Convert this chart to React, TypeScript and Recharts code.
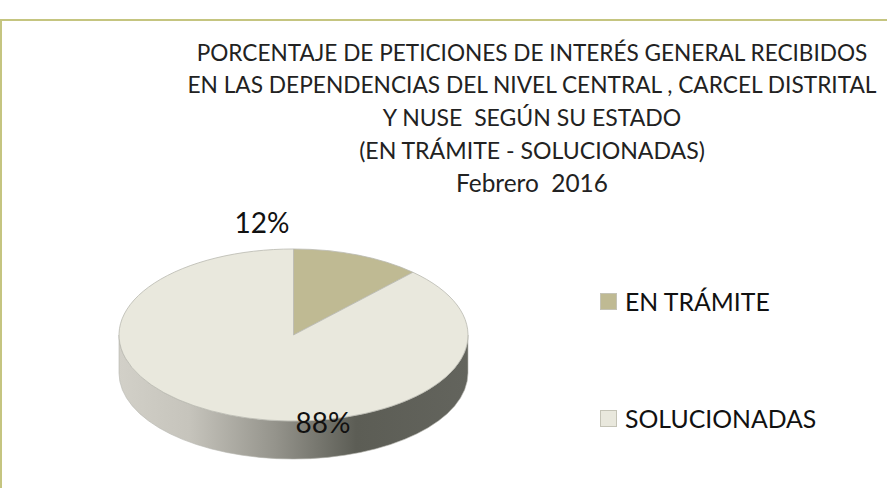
import { PieChart, Pie, Legend } from "recharts";

const categories = ["EN TRÁMITE", "SOLUCIONADAS"];
const values = [12, 88];
const colors = ["#bfba93", "#e9e8dd"];
const titleLines = [
  "PORCENTAJE DE PETICIONES DE INTERÉS GENERAL RECIBIDOS",
  "EN LAS DEPENDENCIAS DEL NIVEL CENTRAL , CARCEL DISTRITAL",
  "Y NUSE  SEGÚN SU ESTADO",
  "(EN TRÁMITE - SOLUCIONADAS)",
  "Febrero  2016",
];

const chartData = categories.map((name, i) => ({ name, value: values[i], fill: colors[i] }));

const FONT = "Lato, 'Open Sans', sans-serif";
const TITLE_SIZES = [22.6, 22.7, 23, 23.1, 24.4];
const SQUASH = 0.493; // ry / rx del disco
const DEPTH = 38;
const LABEL_OFFSET = [
  { dx: -31.5, dy: -102 },
  { dx: 29.5, dy: 98 },
];

const rad = (a: number) => (a * Math.PI) / 180;

// sector elíptico con la pared lateral del disco
function Sector3D(props: any) {
  const { cx, cy, outerRadius, startAngle, endAngle, fill } = props;
  const rx = outerRadius;
  const ry = outerRadius * SQUASH;
  const px = (a: number) => cx + rx * Math.cos(rad(a));
  const py = (a: number) => cy - ry * Math.sin(rad(a));
  const large = Math.abs(startAngle - endAngle) > 180 ? 1 : 0;

  const lo = Math.max(Math.min(startAngle, endAngle), -180);
  const hi = Math.min(Math.max(startAngle, endAngle), 0);

  return (
    <g>
      {hi > lo && (
        <path
          d={`M${px(lo)},${py(lo)} A${rx},${ry} 0 0 0 ${px(hi)},${py(hi)} L${px(hi)},${py(hi) + DEPTH} A${rx},${ry} 0 0 1 ${px(lo)},${py(lo) + DEPTH} Z`}
          fill="url(#wall)"
          stroke="#b5b5ae"
          strokeWidth={0.6}
        />
      )}
      <path
        d={`M${cx},${cy} L${px(startAngle)},${py(startAngle)} A${rx},${ry} 0 ${large} 1 ${px(endAngle)},${py(endAngle)} Z`}
        fill={fill}
        stroke="#b9b9b0"
        strokeWidth={0.8}
      />
    </g>
  );
}

const renderLabel = (props: any) => {
  const { cx, cy, index, value } = props;
  return (
    <text
      x={cx + LABEL_OFFSET[index].dx}
      y={cy + LABEL_OFFSET[index].dy}
      textAnchor="middle"
      fontFamily={FONT}
      fontSize={28}
      fill="#111"
    >
      {`${value}%`}
    </text>
  );
};

const renderLegend = (props: any) => (
  <div>
    {(props.payload || []).map((entry: any) => (
      <div key={entry.value} style={{ display: "flex", alignItems: "center", height: 34, marginBottom: 83 }}>
        <span
          style={{
            width: 17,
            height: 17,
            boxSizing: "border-box",
            background: entry.color,
            border: "1px solid #c4c3b6",
            marginRight: 8,
          }}
        />
        <span style={{ fontFamily: FONT, fontSize: 24.8, color: "#111", whiteSpace: "nowrap" }}>{entry.value}</span>
      </div>
    ))}
  </div>
);

export default function App() {
  return (
    <div style={{ position: "absolute", left: 0, top: 0, width: 887, height: 488, background: "#fff", overflow: "hidden" }}>
      <div
        style={{
          position: "absolute",
          left: 0,
          top: 19,
          width: 900,
          height: 500,
          boxSizing: "border-box",
          border: "2px solid #c5c580",
        }}
      />
      <PieChart width={887} height={488} margin={{ top: 0, right: 0, bottom: 0, left: 0 }} style={{ position: "absolute", left: 0, top: 0 }}>
        <defs>
          <linearGradient id="wall" x1="0" y1="0" x2="1" y2="0">
            <stop offset="0%" stopColor="#d2d0c8" />
            <stop offset="20%" stopColor="#c6c4bc" />
            <stop offset="45%" stopColor="#94938b" />
            <stop offset="68%" stopColor="#5c5d55" />
            <stop offset="100%" stopColor="#63645d" />
          </linearGradient>
        </defs>
        {titleLines.map((line, i) => (
          <text
            key={i}
            x={532}
            y={60.5 + i * 32.8}
            textAnchor="middle"
            fontFamily={FONT}
            fontSize={TITLE_SIZES[i]}
            fill="#222"
            style={{ whiteSpace: "pre" }}
          >
            {line}
          </text>
        ))}
        <Pie
          data={chartData}
          dataKey="value"
          nameKey="name"
          cx={293.5}
          cy={335}
          outerRadius={174.5}
          startAngle={90}
          endAngle={-270}
          shape={Sector3D}
          label={renderLabel}
          labelLine={false}
          isAnimationActive={false}
        />
        <Legend
          content={renderLegend}
          wrapperStyle={{ position: "absolute", left: 600, top: 284, width: 280, bottom: "auto", right: "auto" }}
        />
      </PieChart>
    </div>
  );
}
